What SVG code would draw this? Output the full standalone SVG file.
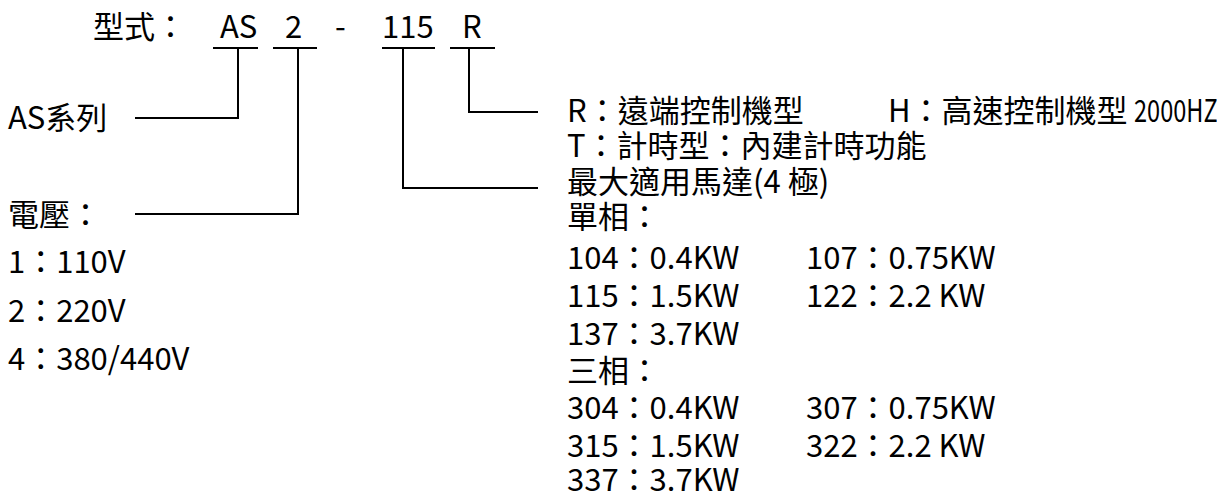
<svg xmlns="http://www.w3.org/2000/svg" width="1217" height="496" viewBox="0 0 1217 496">
<style>
text{font-family:"Noto Sans CJK TC","Noto Sans CJK SC",sans-serif;font-size:31px;fill:#000}
.c{fill:none;stroke:#000;stroke-width:2}
</style>
<rect width="1217" height="496" fill="#fff"/>
<g id="title">
<text x="93" y="38">型式：</text>
<text x="220" y="38">AS</text>
<text x="285" y="38">2</text>
<text x="335" y="38">-</text>
<text x="382" y="38">115</text>
<text x="462" y="38">R</text>
</g>
<g id="connectors">
<path class="c" d="M213 48H258M273 48H317M382 48H435M450 48H495"/>
<path class="c" d="M238 48V118H135"/>
<path class="c" d="M298 48V214H135"/>
<path class="c" d="M403 48V188H538"/>
<path class="c" d="M469 48V112H538"/>
</g>
<g id="series">
<text x="8" y="129">AS系列</text>
</g>
<g id="voltage">
<text x="8" y="226">電壓：</text>
<text x="8" y="273">1：110V</text>
<text x="8" y="322">2：220V</text>
<text x="8" y="370">4：380/440V</text>
</g>
<g id="options">
<text x="567" y="122">R：遠端控制機型</text>
<text x="888" y="122">H：高速控制機型</text>
<text transform="translate(1134,122) scale(0.76,1)">2000HZ</text>
<text x="567" y="157">T：計時型：內建計時功能</text>
</g>
<g id="motor">
<text x="567" y="193">最大適用馬達(4 極)</text>
<text x="567" y="228">單相：</text>
<text x="567" y="269">104：0.4KW</text>
<text x="806" y="269">107：0.75KW</text>
<text x="567" y="307">115：1.5KW</text>
<text x="806" y="307">122：2.2 KW</text>
<text x="567" y="345">137：3.7KW</text>
<text x="567" y="382">三相：</text>
<text x="567" y="419">304：0.4KW</text>
<text x="806" y="419">307：0.75KW</text>
<text x="567" y="457">315：1.5KW</text>
<text x="806" y="457">322：2.2 KW</text>
<text x="567" y="491">337：3.7KW</text>
</g>
</svg>
